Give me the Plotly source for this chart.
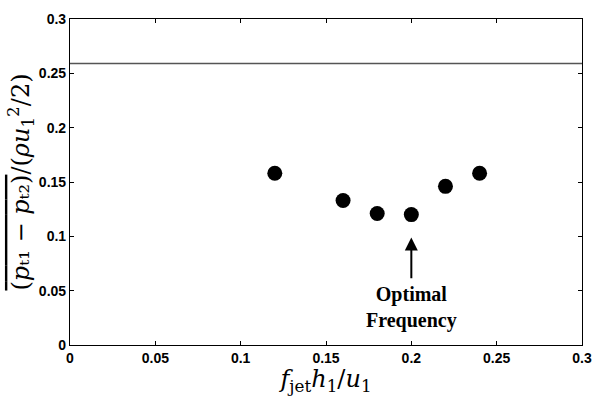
import plotly.graph_objects as go

freq = [0.12, 0.16, 0.18, 0.20, 0.22, 0.24]
loss = [0.158, 0.133, 0.121, 0.120, 0.146, 0.158]
ref_level = 0.259
x_ticks = [0, 0.05, 0.1, 0.15, 0.2, 0.25, 0.3]
y_ticks = [0, 0.05, 0.1, 0.15, 0.2, 0.25, 0.3]
opt_x = 0.20
arrow_tip, arrow_tail = 0.099, 0.060

fig = go.Figure()
fig.add_trace(go.Scatter(x=[0, 0.3], y=[ref_level, ref_level], mode="lines",
                         line=dict(color="#555555", width=1.5), hoverinfo="skip"))
fig.add_trace(go.Scatter(x=freq, y=loss, mode="markers",
                         marker=dict(color="black", size=15)))

fig.add_annotation(x=opt_x, y=arrow_tip, ax=opt_x, ay=arrow_tail, xref="x", yref="y",
                   axref="x", ayref="y", showarrow=True, arrowhead=2, arrowsize=1.3,
                   arrowwidth=2, arrowcolor="black", text="")
fig.add_annotation(x=opt_x, y=arrow_tail, xref="x", yref="y", showarrow=False,
                   yanchor="top", yshift=-1,
                   text="<b>Optimal<br>Frequency</b>",
                   font=dict(family="Liberation Serif", size=20, color="black"))

axis_common = dict(showline=True, linecolor="black", linewidth=1.2, mirror="ticks",
                   ticks="inside", ticklen=4, tickcolor="black", showgrid=False,
                   zeroline=False,
                   tickfont=dict(family="Liberation Sans", size=14, color="black"))

y_title = ("<span style='text-decoration:overline'>(<i>p</i>ₜ₁ − <i>p</i>ₜ₂)</span>"
           "/(<i>ρu</i><sub>1</sub><sup>2</sup>/2)")

fig.update_layout(
    width=603, height=396, showlegend=False,
    plot_bgcolor="white", paper_bgcolor="white",
    margin=dict(l=70, r=11, t=16, b=50),
    xaxis=dict(range=[0, 0.3], tickvals=x_ticks, ticktext=[f"<b>{v:g}</b>" for v in x_ticks],
               title=dict(text="<i>f</i><sub>jet</sub><i>h</i><sub>1</sub>/<i>u</i><sub>1</sub>",
                          font=dict(family="DejaVu Serif", size=24, color="black"),
                          standoff=2),
               **axis_common),
    yaxis=dict(range=[0, 0.3], tickvals=y_ticks, ticktext=[f"<b>{v:g}</b>" for v in y_ticks],
               title=dict(text=y_title,
                          font=dict(family="DejaVu Serif", size=24, color="black"),
                          standoff=2),
               **axis_common),
)

fig.write_html("out.html")
